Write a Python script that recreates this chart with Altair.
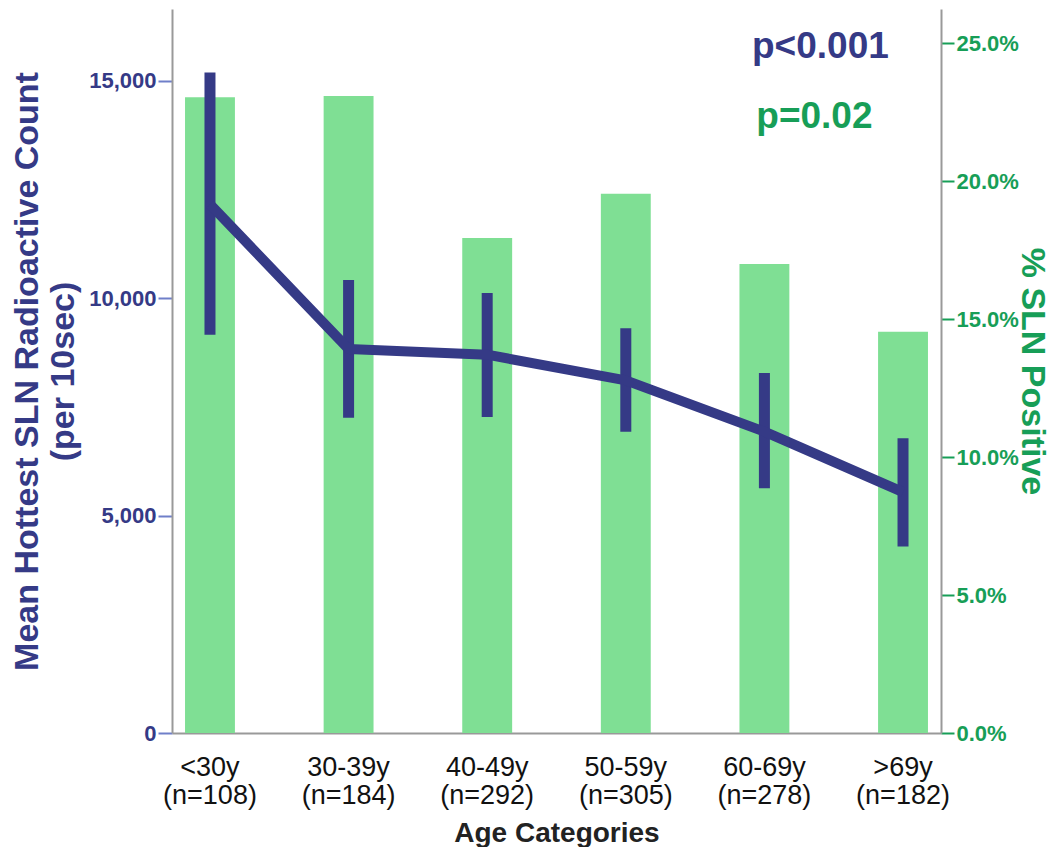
import altair as alt
import pandas as pd

# ---- data ----
categories = ["<30y", "30-39y", "40-49y", "50-59y", "60-69y", ">69y"]
n_values = [108, 184, 292, 305, 278, 182]
pct_positive = [23.05, 23.1, 17.95, 19.55, 17.0, 14.55]
mean_count = [12160, 8830, 8700, 8110, 6930, 5540]
ci_low = [9160, 7250, 7270, 6930, 5630, 4290]
ci_high = [15190, 10420, 10120, 9310, 8280, 6780]

left_ticks = [0, 5000, 10000, 15000]
right_ticks = [0, 5, 10, 15, 20, 25]

note_texts = ["p<0.001", "p=0.02"]
note_values = [15524, 13915]

NAVY = "#353A86"
GREEN = "#179E57"
BAR = "#7FDF94"
FONT = "Liberation Sans"

labels = [f"{c}|(n={n})" for c, n in zip(categories, n_values)]
df = pd.DataFrame({"label": labels, "pct": pct_positive, "mean": mean_count,
                   "lo": ci_low, "hi": ci_high})

x_enc = alt.X(
    "label:N", sort=labels,
    scale=alt.Scale(paddingInner=0.64, paddingOuter=0.094),
    axis=alt.Axis(
        title="Age Categories", labelExpr="split(datum.label, '|')", labelAngle=0,
        labelFont=FONT, labelFontSize=27, labelColor="#111", labelLineHeight=28,
        labelPadding=21, ticks=False, tickSize=0, domainColor="#999", domainWidth=2,
        titleFont=FONT, titleFontSize=28, titleFontWeight="bold", titleColor="#222",
        titleY=108, titleBaseline="alphabetic",
    ),
)

left_scale = alt.Scale(domain=[0, 16650], nice=False)
left_axis = alt.Axis(
    orient="left", values=left_ticks, format=",d",
    title=["Mean Hottest SLN Radioactive Count", "(per 10sec)"],
    labelFont=FONT, labelFontSize=22, labelFontWeight="bold", labelColor=NAVY,
    labelPadding=2, tickSize=14, tickWidth=2, tickColor="#6F7FC9",
    domainColor="#999", domainWidth=2,
    titleFont=FONT, titleFontSize=34, titleFontWeight="bold", titleColor=NAVY,
    titlePadding=8, titleLineHeight=36,
)

right_axis = alt.Axis(
    orient="right", values=right_ticks,
    labelExpr="format(datum.value, '.1f') + '%'",
    title="% SLN Positive",
    labelFont=FONT, labelFontSize=22, labelFontWeight="bold", labelColor=GREEN,
    labelPadding=2, tickSize=13, tickWidth=2, tickColor=GREEN,
    domainColor="#999", domainWidth=2,
    titleFont=FONT, titleFontSize=34, titleFontWeight="bold", titleColor=GREEN,
    titlePadding=-4,
)

bars = alt.Chart(df).mark_bar(color=BAR).encode(
    x=x_enc,
    y=alt.Y("pct:Q", scale=alt.Scale(domain=[0, 26.25], nice=False), axis=right_axis),
)

rules = alt.Chart(df).mark_rule(color=NAVY, strokeWidth=11, strokeCap="butt").encode(
    x=x_enc,
    y=alt.Y("lo:Q", scale=left_scale, axis=left_axis),
    y2="hi:Q",
)

line = alt.Chart(df).mark_line(color=NAVY, strokeWidth=10, strokeJoin="round").encode(
    x=x_enc,
    y=alt.Y("mean:Q", scale=left_scale, axis=left_axis),
)

note1 = alt.Chart(pd.DataFrame({"label": [labels[4]], "v": [note_values[0]], "t": [note_texts[0]]})).mark_text(
    font=FONT, fontSize=37, fontWeight="bold", color=NAVY, align="center",
    baseline="alphabetic", dx=56,
).encode(x=x_enc, y=alt.Y("v:Q", scale=left_scale, axis=left_axis), text="t:N")

note2 = alt.Chart(pd.DataFrame({"label": [labels[4]], "v": [note_values[1]], "t": [note_texts[1]]})).mark_text(
    font=FONT, fontSize=37, fontWeight="bold", color=GREEN, align="center",
    baseline="alphabetic", dx=50,
).encode(x=x_enc, y=alt.Y("v:Q", scale=left_scale, axis=left_axis), text="t:N")

inner = alt.layer(rules, line, note1, note2)

chart = alt.layer(bars, inner).resolve_scale(y="independent").properties(
    width=769, height=724, autosize="none",
    padding={"left": 164, "top": 1, "right": 112, "bottom": 114},
).configure_view(stroke=None).configure_axis(grid=False)

chart.save("out.html", embed_options={"renderer": "svg", "actions": False})
